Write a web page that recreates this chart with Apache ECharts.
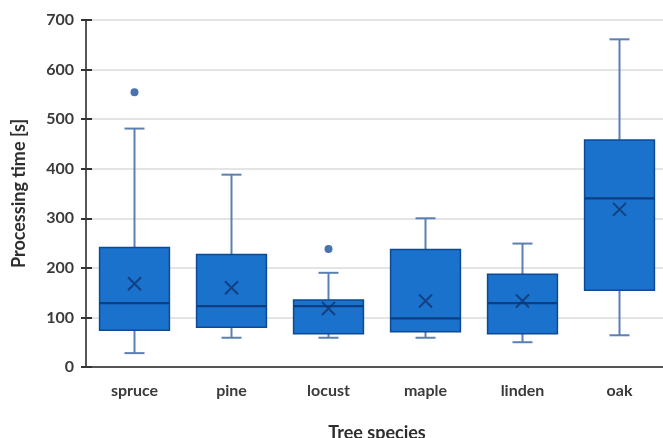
<!DOCTYPE html>
<html>
<head>
<meta charset="utf-8">
<script src="https://cdn.jsdelivr.net/npm/echarts@6/dist/echarts.min.js"></script>
<style>
  html, body { margin: 0; padding: 0; background: #fff; }
  #chart { width: 663px; height: 438px; }
</style>
</head>
<body>
<div id="chart"></div>
<script>
// Tree species and their processing-time distributions (seconds)
const species = ['spruce', 'pine', 'locust', 'maple', 'linden', 'oak'];
const whiskerLow = [28, 59, 59, 59, 50, 64];
const quartile1 = [74, 80, 67, 71, 67, 155];
const medians = [129, 123, 123, 98, 129, 340];
const quartile3 = [241, 227, 135, 237, 187, 458];
const whiskerHigh = [481, 388, 190, 300, 249, 661];
const means = [168, 160, 118, 133, 133, 318];
// Outliers as [species index, value]
const outliers = [[0, 554], [2, 238]];
const yTicks = { min: 0, max: 700, interval: 100 };

const FONT = 'Lato, "Open Sans", sans-serif';
const boxFill = '#1a72cc';
const boxEdge = '#0c4a94';
const whiskerColor = '#5c7fb3';
const medianColor = '#0b3f82';
const meanColor = '#0f3470';

const boxData = species.map((s, i) => [i, whiskerLow[i], quartile1[i], medians[i], quartile3[i], whiskerHigh[i]]);

function renderBox(params, api) {
  const i = api.value(0);
  const pLow = api.coord([i, api.value(1)]);
  const pQ1 = api.coord([i, api.value(2)]);
  const pMed = api.coord([i, api.value(3)]);
  const pQ3 = api.coord([i, api.value(4)]);
  const pHigh = api.coord([i, api.value(5)]);
  const band = api.size([1, 0])[0];
  const bw = band * 0.72;
  const cap = 20;
  const x = pMed[0];
  const wStyle = { stroke: whiskerColor, lineWidth: 2 };
  return {
    type: 'group',
    children: [
      { type: 'line', shape: { x1: x, y1: pLow[1], x2: x, y2: pQ1[1] }, style: wStyle },
      { type: 'line', shape: { x1: x, y1: pQ3[1], x2: x, y2: pHigh[1] }, style: wStyle },
      { type: 'line', shape: { x1: x - cap / 2, y1: pLow[1], x2: x + cap / 2, y2: pLow[1] }, style: wStyle },
      { type: 'line', shape: { x1: x - cap / 2, y1: pHigh[1], x2: x + cap / 2, y2: pHigh[1] }, style: wStyle },
      { type: 'rect', shape: { x: x - bw / 2, y: pQ3[1], width: bw, height: pQ1[1] - pQ3[1] },
        style: { fill: boxFill, stroke: boxEdge, lineWidth: 1.5 } },
      { type: 'line', shape: { x1: x - bw / 2, y1: pMed[1], x2: x + bw / 2, y2: pMed[1] },
        style: { stroke: medianColor, lineWidth: 2.2 } }
    ]
  };
}

const chart = echarts.init(document.getElementById('chart'), null, { renderer: 'canvas' });
chart.setOption({
  animation: false,
  backgroundColor: '#ffffff',
  grid: { left: 86, right: -5, top: 20, bottom: 71, containLabel: false, outerBoundsMode: 'none' },
  xAxis: [
    {
      type: 'category',
      data: species,
      boundaryGap: true,
      name: 'Tree species',
      nameLocation: 'middle',
      nameGap: 57,
      nameTextStyle: { fontFamily: FONT, fontSize: 18, fontWeight: 'bold', color: '#2e2e2e' },
      axisLine: { lineStyle: { color: '#555', width: 2 } },
      axisTick: { alignWithLabel: false, length: 6, lineStyle: { color: '#333', width: 2 } },
      axisLabel: { fontFamily: FONT, fontSize: 16, fontWeight: 'bold', color: '#3a3a3a', margin: 16 },
      splitLine: { show: false }
    },
    {
      type: 'category',
      data: species,
      position: 'bottom',
      axisLine: { show: false },
      axisTick: { inside: true, length: 6, lineStyle: { color: '#333', width: 2 } },
      axisLabel: { show: false }
    }
  ],
  yAxis: [
    {
      type: 'value',
      min: yTicks.min, max: yTicks.max, interval: yTicks.interval,
      name: 'Processing time [s]',
      nameLocation: 'middle',
      nameGap: 58,
      nameTextStyle: { fontFamily: FONT, fontSize: 18, fontWeight: 'bold', color: '#2e2e2e' },
      axisLine: { show: true, lineStyle: { color: '#555', width: 2 } },
      axisTick: { show: true, length: 5, lineStyle: { color: '#333', width: 2 } },
      axisLabel: { fontFamily: FONT, fontSize: 16, fontWeight: 'bold', color: '#3a3a3a', margin: 12 },
      splitLine: { show: true, lineStyle: { color: '#e4e4e4', width: 2 } }
    },
    {
      type: 'value',
      min: yTicks.min, max: yTicks.max, interval: yTicks.interval,
      position: 'left',
      axisLine: { show: false },
      axisTick: { show: true, inside: true, length: 6, lineStyle: { color: '#333', width: 2 } },
      axisLabel: { show: false },
      splitLine: { show: false }
    }
  ],
  series: [
    {
      type: 'custom',
      renderItem: renderBox,
      data: boxData,
      encode: { x: 0, y: [1, 2, 3, 4, 5] },
      z: 3
    },
    {
      type: 'scatter',
      data: means.map((m, i) => [i, m]),
      symbol: 'path://M0,0L10,10M10,0L0,10',
      symbolSize: 13,
      itemStyle: { color: 'rgba(0,0,0,0)', borderColor: meanColor, borderWidth: 2 },
      z: 5
    },
    {
      type: 'scatter',
      data: outliers,
      symbol: 'circle',
      symbolSize: 8,
      itemStyle: { color: '#1a4f9c' },
      z: 5
    }
  ]
});
</script>
</body>
</html>
